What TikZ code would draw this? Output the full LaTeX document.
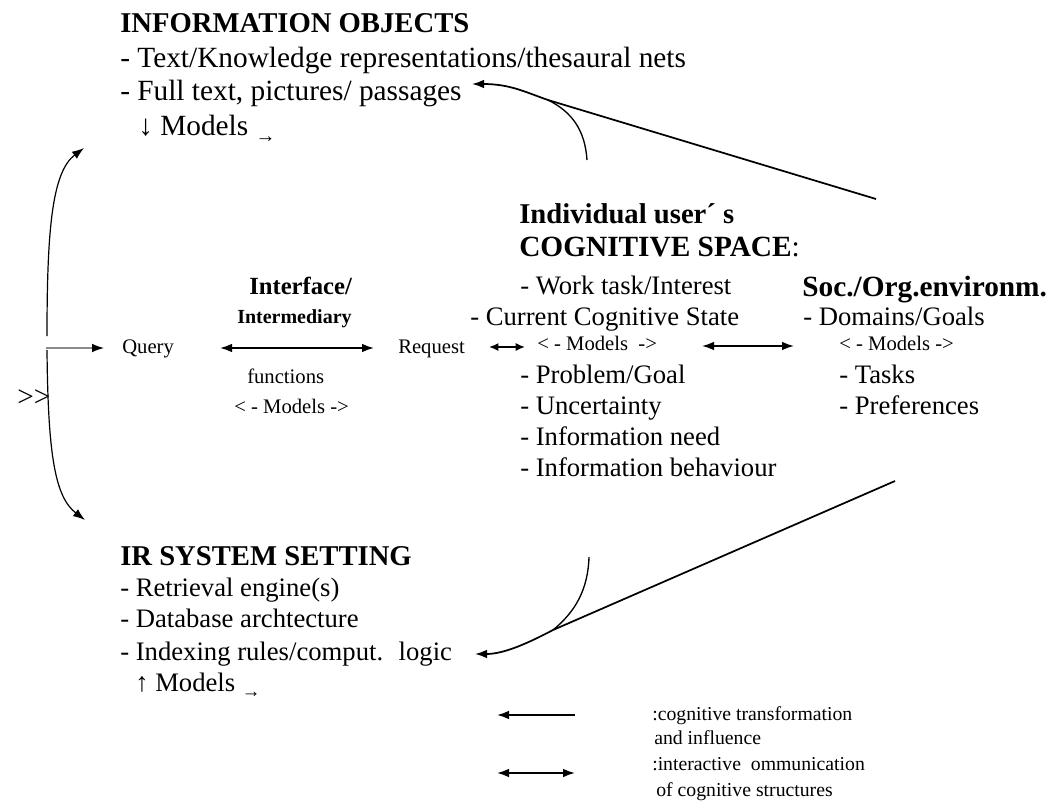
\documentclass[tikz,border=0pt]{standalone}
\usepackage{fontspec}
\setmainfont{Liberation Serif}
\usetikzlibrary{arrows.meta}
\begin{document}
\begin{tikzpicture}[x=0.75pt,y=-0.75pt,
  txt/.style={anchor=base west, inner sep=0pt, font=\fontsize{22}{26}\selectfont},
  txtm/.style={anchor=base west, inner sep=0pt, font=\fontsize{20}{24}\selectfont},
  head/.style={anchor=base west, inner sep=0pt, font=\fontsize{21.5}{26}\selectfont\bfseries},
  small/.style={anchor=base west, inner sep=0pt, font=\fontsize{15.5}{18}\selectfont},
  smallb/.style={anchor=base west, inner sep=0pt, font=\fontsize{15}{18}\selectfont\bfseries},
  leg/.style={anchor=base west, inner sep=0pt, font=\fontsize{14.8}{17}\selectfont},
  tip/.style={-{Latex[length=9pt,width=6.5pt]}},
  dtip/.style={{Latex[length=9pt,width=6.5pt]}-{Latex[length=9pt,width=6.5pt]}},
  conn/.style={line width=1.3pt, tip},
  thinconn/.style={line width=0.9pt, tip},
  dconn/.style={line width=1.3pt, dtip},
]
\useasboundingbox (0,0) rectangle (1053,800);

% INFORMATION OBJECTS
\node[head] (io) at (120,32) {INFORMATION OBJECTS};
\node[txt] (io1) at (120,67) {- Text/Knowledge representations/thesaural nets};
\node[txt] (io2) at (120,100) {- Full text, pictures/ passages};
\node[txt] (io3) at (138,135) {↓ Models \raisebox{-0.25em}{\fontsize{15}{18}\selectfont →}};

% Individual user's cognitive space
\node[head] (cs) at (519,223) {Individual user´ s};
\node[txt] (cs0) at (519,256) {\textbf{COGNITIVE SPACE}:};
\node[txtm] (cs1) at (520,294) {- Work task/Interest};
\node[txtm] (cs2) at (470,325) {- Current Cognitive State};
\node[small] (csm) at (537,350) {< - Models \ ->};
\node[txtm] (cs3) at (520,383) {- Problem/Goal};
\node[txtm] (cs4) at (520,414) {- Uncertainty};
\node[txtm] (cs5) at (520,445) {- Information need};
\node[txtm] (cs6) at (520,476) {- Information behaviour};

% Soc./Org. environment
\node[anchor=base west, inner sep=0pt, font=\fontsize{22}{26}\selectfont\bfseries] (so) at (802,296) {Soc./Org.environm.};
\node[txtm] (so1) at (803,325) {- Domains/Goals};
\node[small] (som) at (839,350) {< - Models ->};
\node[txtm] (so2) at (839,383) {- Tasks};
\node[txtm] (so3) at (839,414) {- Preferences};

% Interface
\node[anchor=base west, inner sep=0pt, font=\fontsize{18.5}{22}\selectfont\bfseries] (if) at (249,294) {Interface/};
\node[smallb] (if1) at (237,323) {Intermediary};
\node[small] (if2) at (247,383) {functions};
\node[small] (if3) at (234,413) {< - Models ->};
\node[small] (query) at (122,353) {Query};
\node[small] (req) at (398,353) {Request};
\node[txt] (gg) at (17,406) {{>}{>}};

% IR SYSTEM SETTING
\node[head] (ir) at (120,565) {IR SYSTEM SETTING};
\node[anchor=base west, inner sep=0pt, font=\fontsize{20}{24}\selectfont] (ir1) at (120,596) {- Retrieval engine(s)};
\node[anchor=base west, inner sep=0pt, font=\fontsize{20}{24}\selectfont] (ir2) at (120,627) {- Database archtecture};
\node[anchor=base west, inner sep=0pt, font=\fontsize{20}{24}\selectfont] (ir3) at (120,660) {- Indexing rules/comput. \ logic};
\node[anchor=base west, inner sep=0pt, font=\fontsize{20}{24}\selectfont] (ir4) at (135,691) {↑ Models \raisebox{-0.25em}{\fontsize{14}{17}\selectfont →}};

% legend
\node[leg] (l1) at (652,720) {:cognitive transformation};
\node[leg] (l2) at (654,744) {and influence};
\node[leg] (l3) at (652,770) {:interactive \ ommunication};
\node[leg] (l4) at (656,796) {of cognitive structures};
\coordinate (l1a) at (575,715);
\coordinate (l1b) at (497,715);
\coordinate (l3a) at (497,773);
\coordinate (l3b) at (575,773);
\draw[conn] (l1a) -- (l1b);
\draw[dconn] (l3a) -- (l3b);

% left branching arrows
\coordinate (split1) at (47,336);
\coordinate (split2) at (47,350);
\coordinate (upTip) at (84,148);
\coordinate (dnTip) at (85,520);
\coordinate (qStart) at (46,348);
\coordinate (qTip) at (104,348);
\draw[thinconn] (split1) .. controls (47,230) and (52,172) .. (upTip);
\draw[thinconn] (split2) .. controls (48,455) and (55,497) .. (dnTip);
\draw[line width=0.9pt, black!45, -{Latex[length=9pt,width=6.5pt,color=black]}] (qStart) -- (qTip);

% horizontal interaction arrows
\coordinate (ia) at (220,348);
\coordinate (ib) at (374,348);
\draw[dconn] (ia) -- (ib);
\coordinate (ra) at (489,347);
\coordinate (rb) at (525,347);
\draw[line width=1.2pt, {Latex[length=7pt,width=6pt]}-{Latex[length=7pt,width=6pt]}] (ra) -- (rb);
\coordinate (ca) at (702,346);
\coordinate (cb) at (794,346);
\draw[dconn] (ca) -- (cb);

% top influence arrows
\coordinate (envTop) at (876,199);
\coordinate (topJoin) at (548,100);
\coordinate (topTip) at (472,84);
\coordinate (cogTop) at (587,160);
\draw[conn] (envTop) -- (topJoin) .. controls (525,92) and (510,84) .. (topTip);
\draw[line width=1pt] (cogTop) .. controls (585,130) and (572,112) .. (topJoin);

% bottom influence arrows
\coordinate (envBot) at (895,481);
\coordinate (botJoin) at (553,630);
\coordinate (botTip) at (475,654);
\coordinate (cogBot) at (589,557);
\draw[conn] (envBot) -- (botJoin) .. controls (530,642) and (505,654) .. (botTip);
\draw[line width=1pt] (cogBot) .. controls (588,590) and (575,612) .. (botJoin);
\end{tikzpicture}
\end{document}
